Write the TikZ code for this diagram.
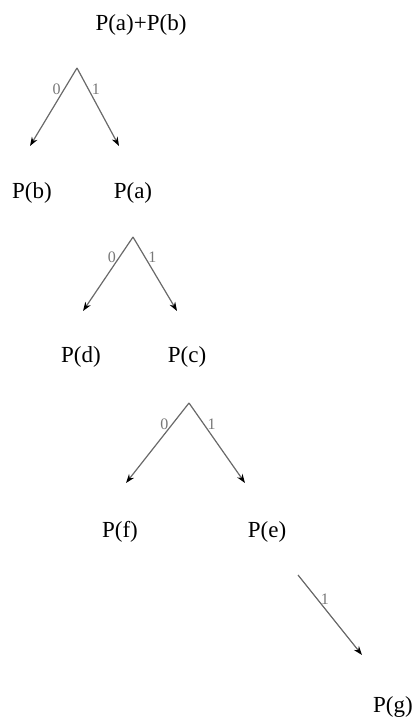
\documentclass[tikz,border=0pt]{standalone}
\usepackage{fontspec}
\setmainfont{Liberation Serif}
\usepackage{tikz}
\usetikzlibrary{arrows.meta}
\definecolor{branchgray}{RGB}{105,105,105}
\definecolor{bitgray}{RGB}{120,120,120}
\tikzset{
  prob/.style={font=\fontsize{11.5}{13}\selectfont,inner sep=0pt},
  bit/.style={font=\fontsize{8}{9}\selectfont,text=bitgray,inner sep=1.5pt},
  branch/.style={draw=branchgray,line width=0.6pt,-{Stealth[length=4.5pt,width=3.2pt,black]}}
}

\begin{document}
\begin{tikzpicture}[x=0.5pt,y=-0.5pt]
  \useasboundingbox (0,0) rectangle (414,718);
  \node[prob] (pab) at (141,25) {P(a)+P(b)};
  % the three splits
  \foreach \n/\ax/\ay/\lx/\rx/\by in {1/77/68/30/119/146,2/133/237/83/177/311,3/189/403/126/245/483} {
    \coordinate (top\n) at (\ax,\ay);
    \coordinate (lt\n) at (\lx,\by);
    \coordinate (rt\n) at (\rx,\by);
    \draw[branch] (top\n) -- node[bit,pos=0.27,left] {0} (lt\n);
    \draw[branch] (top\n) -- node[bit,pos=0.27,right] {1} (rt\n);
  }
  \node[prob] (pb) at (32,193) {P(b)};
  \node[prob] (pa) at (133,193) {P(a)};
  \node[prob] (pd) at (81,357) {P(d)};
  \node[prob] (pc) at (187,357) {P(c)};
  \node[prob] (pf) at (120,532) {P(f)};
  \node[prob] (pe) at (267,532) {P(e)};
  % last branch
  \coordinate (top4) at (298,575);
  \coordinate (rt4) at (362,655);
  \draw[branch] (top4) -- node[bit,pos=0.3,right] {1} (rt4);
  \node[prob] (pg) at (393,707) {P(g)};
\end{tikzpicture}
\end{document}
